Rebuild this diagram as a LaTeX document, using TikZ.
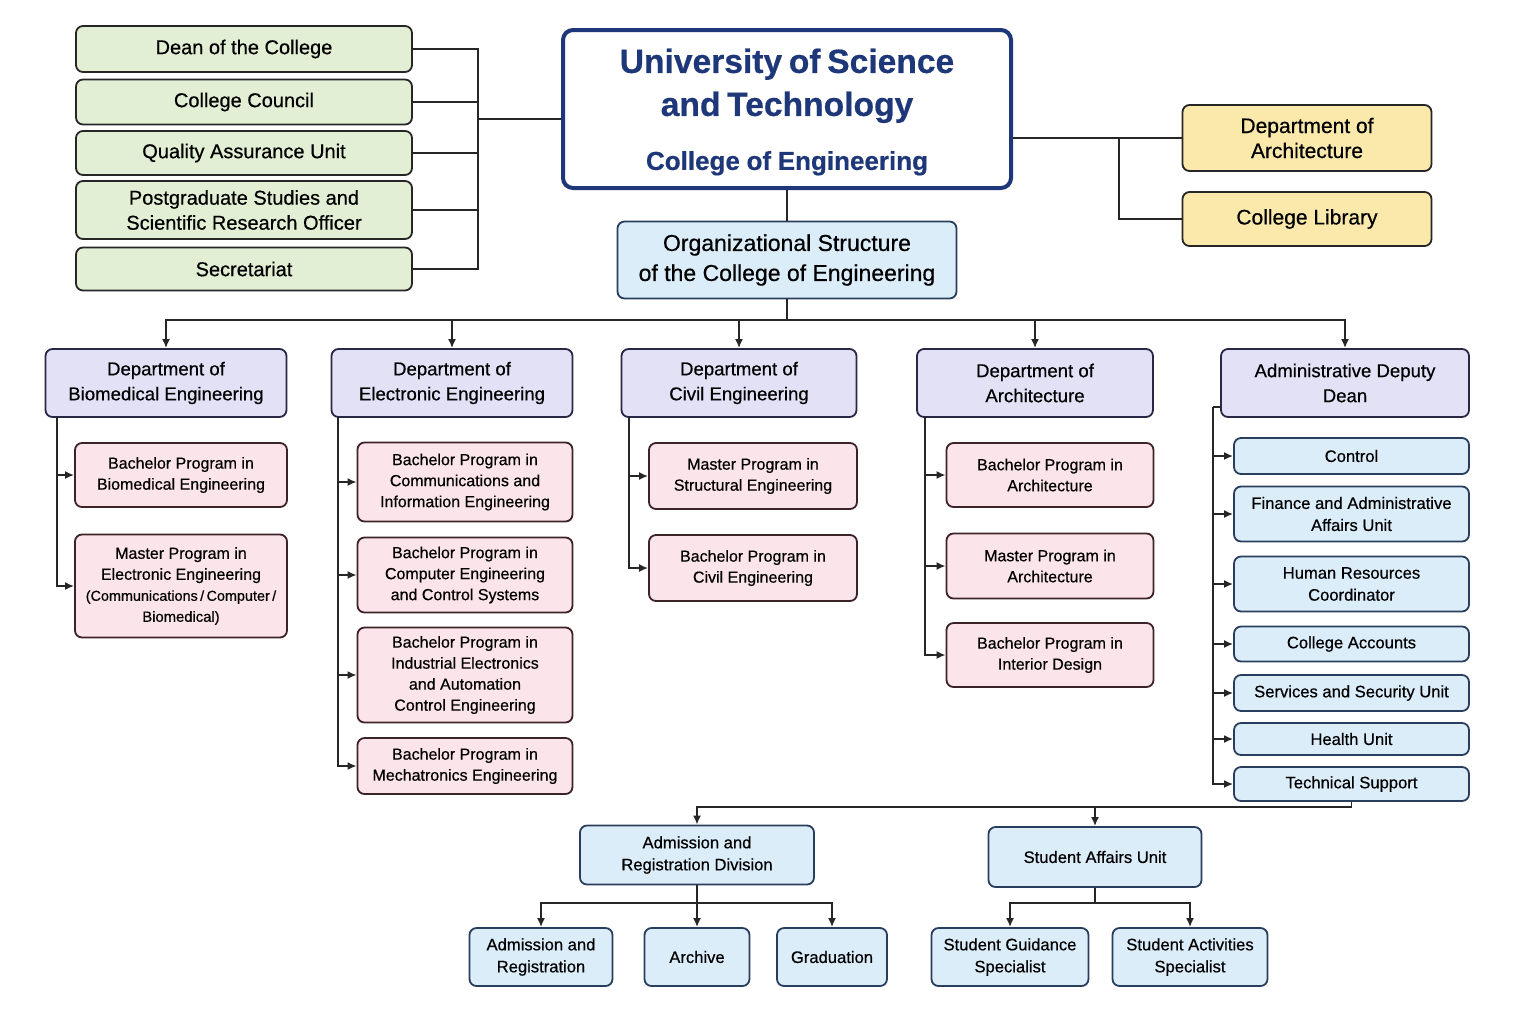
\documentclass[tikz,border=0pt]{standalone}
\usepackage{fontspec}
\setmainfont{Liberation Sans}[FakeBold=0.5]
\usetikzlibrary{arrows.meta}
\definecolor{gfill}{RGB}{226,239,212}
\definecolor{yfill}{RGB}{250,233,170}
\definecolor{dfill}{RGB}{227,225,246}
\definecolor{pfill}{RGB}{252,229,234}
\definecolor{bfill}{RGB}{220,237,250}
\definecolor{navy}{RGB}{30,55,120}
\definecolor{bline}{RGB}{40,62,92}
\definecolor{dline}{RGB}{40,40,70}
\definecolor{pline}{RGB}{60,35,40}
\begin{document}
\begin{tikzpicture}[x=0.5pt,y=-0.5pt,
  box/.style={draw=black!85, line width=0.9pt, rounded corners=3.5pt, align=center, inner sep=1pt},
  greenbox/.style={box, fill=gfill, minimum width=168pt, font=\fontsize{10}{12.5}\selectfont},
  yellowbox/.style={box, fill=yfill, minimum width=124.5pt, font=\fontsize{10.5}{12.5}\selectfont},
  deptbox/.style={box, draw=dline, fill=dfill, minimum height=34pt, font=\fontsize{9.3}{12.5}\selectfont},
  progbox/.style={box, draw=pline, fill=pfill, font=\fontsize{8}{10.5}\selectfont},
  unitbox/.style={box, draw=bline, fill=bfill, font=\fontsize{8.3}{11}\selectfont},
  conn/.style={line width=0.9pt, black!85},
  arr/.style={conn, -{Latex[length=4.5pt,width=4pt]}}]
\useasboundingbox (0,0) rectangle (1536,1024);

\node[greenbox, minimum height=23pt] (dean) at (244,49) {Dean of the College};
\node[greenbox, minimum height=22.5pt] (council) at (244,102) {College Council};
\node[greenbox, minimum height=22pt] (quality) at (244,153) {Quality Assurance Unit};
\node[greenbox, minimum height=29pt] (postgrad) at (244,210) {Postgraduate Studies and\\Scientific Research Officer};
\node[greenbox, minimum height=21.5pt] (secretariat) at (244,269) {Secretariat};

\node[draw=navy, line width=2pt, rounded corners=5pt, fill=white, text=navy, align=center, text width=220pt, minimum width=224pt, minimum height=79pt, inner sep=2pt, font=\bfseries] (uni) at (787,109)
  {\fontsize{16.8}{21.5}\selectfont University of Science\\and Technology\par\vspace{11pt}\fontsize{13}{16}\selectfont College of Engineering\par\vspace{-3pt}};

\node[yellowbox, minimum height=33pt] (archdept) at (1307,138) {Department of\\Architecture};
\node[yellowbox, minimum height=27pt] (library) at (1307,219) {College Library};

\node[box, draw=bline, fill=bfill, minimum width=169.5pt, minimum height=38.5pt, font=\fontsize{11.5}{15}\selectfont] (org) at (787,260) {Organizational Structure\\of the College of Engineering};

\node[deptbox, minimum width=120.5pt] (bme) at (166,383) {Department of\\Biomedical Engineering};
\node[deptbox, minimum width=120.5pt] (elec) at (452,383) {Department of\\Electronic Engineering};
\node[deptbox, minimum width=117.5pt] (civil) at (739,383) {Department of\\Civil Engineering};
\node[deptbox, minimum width=118pt] (arch) at (1035,383) {Department of\\Architecture};
\node[deptbox, minimum width=124pt] (adm) at (1345,383) {Administrative Deputy\\Dean};

\node[progbox, minimum width=106pt, minimum height=32pt] (bme1) at (181,475) {Bachelor Program in\\Biomedical Engineering};
\node[progbox, minimum width=106pt, minimum height=51.5pt] (bme2) at (181,586) {Master Program in\\Electronic Engineering\\{\fontsize{7.2}{10}\selectfont(Communications\,/\,Computer\,/}\\{\fontsize{7.4}{10}\selectfont Biomedical)}};

\node[progbox, minimum width=107.5pt, minimum height=39.5pt] (elec1) at (465,482) {Bachelor Program in\\Communications and\\Information Engineering};
\node[progbox, minimum width=107.5pt, minimum height=37.5pt] (elec2) at (465,575) {Bachelor Program in\\Computer Engineering\\and Control Systems};
\node[progbox, minimum width=107.5pt, minimum height=47.5pt] (elec3) at (465,675) {Bachelor Program in\\Industrial Electronics\\and Automation\\Control Engineering};
\node[progbox, minimum width=107.5pt, minimum height=28pt] (elec4) at (465,766) {Bachelor Program in\\Mechatronics Engineering};

\node[progbox, minimum width=104pt, minimum height=33pt] (civ1) at (753,476) {Master Program in\\Structural Engineering};
\node[progbox, minimum width=104pt, minimum height=33pt] (civ2) at (753,568) {Bachelor Program in\\Civil Engineering};

\node[progbox, minimum width=103.5pt, minimum height=32pt] (arch1) at (1050,475) {Bachelor Program in\\Architecture};
\node[progbox, minimum width=103.5pt, minimum height=32.5pt] (arch2) at (1050,566) {Master Program in\\Architecture};
\node[progbox, minimum width=103.5pt, minimum height=32pt] (arch3) at (1050,655) {Bachelor Program in\\Interior Design};

\node[unitbox, minimum width=117.5pt, minimum height=18pt] (control) at (1351.5,456) {Control};
\node[unitbox, minimum width=117.5pt, minimum height=27.5pt] (finance) at (1351.5,514) {Finance and Administrative\\Affairs Unit};
\node[unitbox, minimum width=117.5pt, minimum height=27.5pt] (hr) at (1351.5,584) {Human Resources\\Coordinator};
\node[unitbox, minimum width=117.5pt, minimum height=17.5pt] (accounts) at (1351.5,644) {College Accounts};
\node[unitbox, minimum width=117.5pt, minimum height=18pt] (services) at (1351.5,693) {Services and Security Unit};
\node[unitbox, minimum width=117.5pt, minimum height=16pt] (health) at (1351.5,739) {Health Unit};
\node[unitbox, minimum width=117.5pt, minimum height=17pt] (techsup) at (1351.5,784) {Technical Support};

\node[unitbox, minimum width=117pt, minimum height=29.5pt] (admdiv) at (697,855) {Admission and\\Registration Division};
\node[unitbox, minimum width=106.5pt, minimum height=30pt] (stud) at (1095,857) {Student Affairs Unit};
\node[unitbox, minimum width=71.5pt, minimum height=29pt] (admreg) at (541,957) {Admission and\\Registration};
\node[unitbox, minimum width=52.5pt, minimum height=29pt] (archive) at (697,957) {Archive};
\node[unitbox, minimum width=55pt, minimum height=29pt] (grad) at (832,957) {Graduation};
\node[unitbox, minimum width=78.5pt, minimum height=29pt] (guide) at (1010,957) {Student Guidance\\Specialist};
\node[unitbox, minimum width=77.5pt, minimum height=29pt] (activ) at (1190,957) {Student Activities\\Specialist};

\coordinate (lbus) at (478,119);
\draw[conn] (dean.east) -| (lbus);
\draw[conn] (council.east) -| (lbus);
\draw[conn] (quality.east) -| (lbus);
\draw[conn] (postgrad.east) -| (lbus);
\draw[conn] (secretariat.east) -| (lbus);
\draw[conn] (lbus) -- (lbus -| uni.west);

\coordinate (rbus) at (1119,138);
\draw[conn] (uni.east |- archdept.west) -- (archdept.west);
\draw[conn] (rbus) |- (library.west);

\draw[conn] (uni.south) -- (org.north);
\coordinate (dbus) at (787,320);
\draw[conn] (org.south) -- (dbus);
\draw[arr] (dbus) -| (bme.north);
\draw[arr] (dbus) -| (elec.north);
\draw[arr] (dbus) -| (civil.north);
\draw[arr] (dbus) -| (arch.north);
\draw[arr] (dbus) -| (adm.north);

\coordinate (bmetrunk) at (57,417);
\draw[arr] (bmetrunk) |- (bme1.west);
\draw[arr] (bmetrunk) |- (bme2.west);

\coordinate (electrunk) at (338,417);
\draw[arr] (electrunk) |- (elec1.west);
\draw[arr] (electrunk) |- (elec2.west);
\draw[arr] (electrunk) |- (elec3.west);
\draw[arr] (electrunk) |- (elec4.west);

\coordinate (civtrunk) at (629,417);
\draw[arr] (civtrunk) |- (civ1.west);
\draw[arr] (civtrunk) |- (civ2.west);

\coordinate (archtrunk) at (925,417);
\draw[arr] (archtrunk) |- (arch1.west);
\draw[arr] (archtrunk) |- (arch2.west);
\draw[arr] (archtrunk) |- (arch3.west);

\coordinate (admtrunk) at (1213,407);
\draw[conn] (adm.west |- admtrunk) -- (admtrunk);
\draw[arr] (admtrunk) |- (control.west);
\draw[arr] (admtrunk) |- (finance.west);
\draw[arr] (admtrunk) |- (hr.west);
\draw[arr] (admtrunk) |- (accounts.west);
\draw[arr] (admtrunk) |- (services.west);
\draw[arr] (admtrunk) |- (health.west);
\draw[arr] (admtrunk) |- (techsup.west);

\coordinate (sbus) at (1095,807);
\draw[arr] (techsup.south) -- (techsup.south |- sbus) -| (admdiv.north);
\draw[arr] (sbus) -- (stud.north);

\coordinate (abus) at (697,903);
\draw[conn] (admdiv.south) -- (abus);
\draw[arr] (abus) -| (admreg.north);
\draw[arr] (abus) -- (archive.north);
\draw[arr] (abus) -| (grad.north);

\coordinate (stbus) at (1095,903);
\draw[conn] (stud.south) -- (stbus);
\draw[arr] (stbus) -| (guide.north);
\draw[arr] (stbus) -| (activ.north);
\end{tikzpicture}
\end{document}
